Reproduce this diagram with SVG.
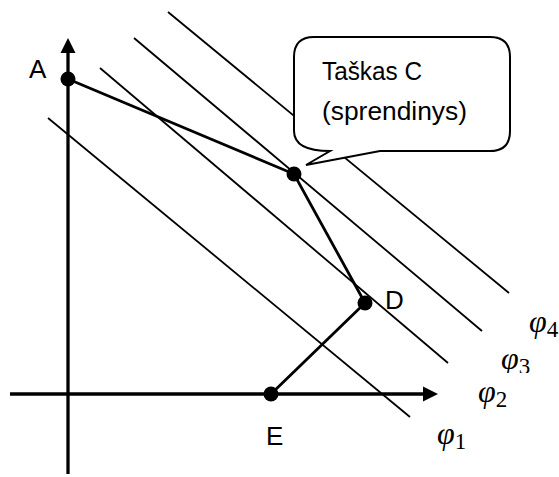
<svg xmlns="http://www.w3.org/2000/svg" width="559" height="477" viewBox="0 0 559 477">
  <style>
    .lvl { stroke: #000; stroke-width: 1.8; fill: none; }
    .seg { stroke: #000; stroke-width: 2.8; fill: none; }
    .axis { stroke: #000; stroke-width: 3.3; fill: none; }
    .pt { fill: #000; }
    .lbl { font-family: "Liberation Sans", Arial, sans-serif; font-size: 26px; fill: #000; }
    .phi { font-family: "Liberation Serif", "Times New Roman", serif; font-style: italic; font-size: 32px; fill: #000; }
    .sub { font-style: normal; font-size: 23px; }
  </style>
  <defs>
    <clipPath id="clip3"><rect x="490" y="340" width="69" height="33"/></clipPath>
  </defs>
  <rect width="559" height="477" fill="#fff"/>

  <g id="level-lines">
    <line class="lvl" x1="48" y1="118" x2="410" y2="417"/>
    <line class="lvl" x1="100" y1="68" x2="448" y2="363"/>
    <line class="lvl" x1="134" y1="38" x2="482" y2="331"/>
    <line class="lvl" x1="168" y1="12" x2="509" y2="293"/>
  </g>

  <g id="callout">
    <path d="M 314,37 H 490 Q 510,37 510,57 V 131 Q 510,151 490,151 H 380 L 306,165 L 330,151 Q 294,151 294,131 V 57 Q 294,37 314,37 Z" fill="#fff" stroke="#000" stroke-width="2"/>
    <text class="lbl" x="322" y="80" textLength="100" lengthAdjust="spacingAndGlyphs">Taškas C</text>
    <text class="lbl" x="322" y="120" textLength="145" lengthAdjust="spacingAndGlyphs">(sprendinys)</text>
  </g>

  <g id="axes">
    <line class="axis" x1="68" y1="474" x2="68" y2="52"/>
    <polygon points="68,38 60.5,53 75.5,53" fill="#000"/>
    <line class="axis" x1="10" y1="394" x2="424" y2="394"/>
    <polygon points="438,394 423,386.5 423,401.5" fill="#000"/>
  </g>

  <g id="connectors">
    <polyline class="seg" points="68,79 294,174 365,303"/>
    <line class="seg" x1="365" y1="303" x2="271" y2="394" stroke-width="2.5"/>
  </g>

  <g id="A"><circle class="pt" cx="68" cy="79" r="7.5"/><text class="lbl" x="29" y="78">A</text></g>
  <g id="C"><circle class="pt" cx="294" cy="174" r="7.5"/></g>
  <g id="D"><circle class="pt" cx="365" cy="303" r="7.5"/><text class="lbl" x="385" y="309">D</text></g>
  <g id="E"><circle class="pt" cx="271" cy="394" r="7.5"/><text class="lbl" x="266" y="445">E</text></g>

  <g id="phi-labels">
    <text class="phi" x="437" y="444">φ<tspan class="sub" dy="5">1</tspan></text>
    <text class="phi" x="478" y="402">φ<tspan class="sub" dy="5">2</tspan></text>
    <text class="phi" x="501" y="369" clip-path="url(#clip3)">φ<tspan class="sub" dy="5">3</tspan></text>
    <text class="phi" x="529" y="332">φ<tspan class="sub" dy="5">4</tspan></text>
  </g>
</svg>
